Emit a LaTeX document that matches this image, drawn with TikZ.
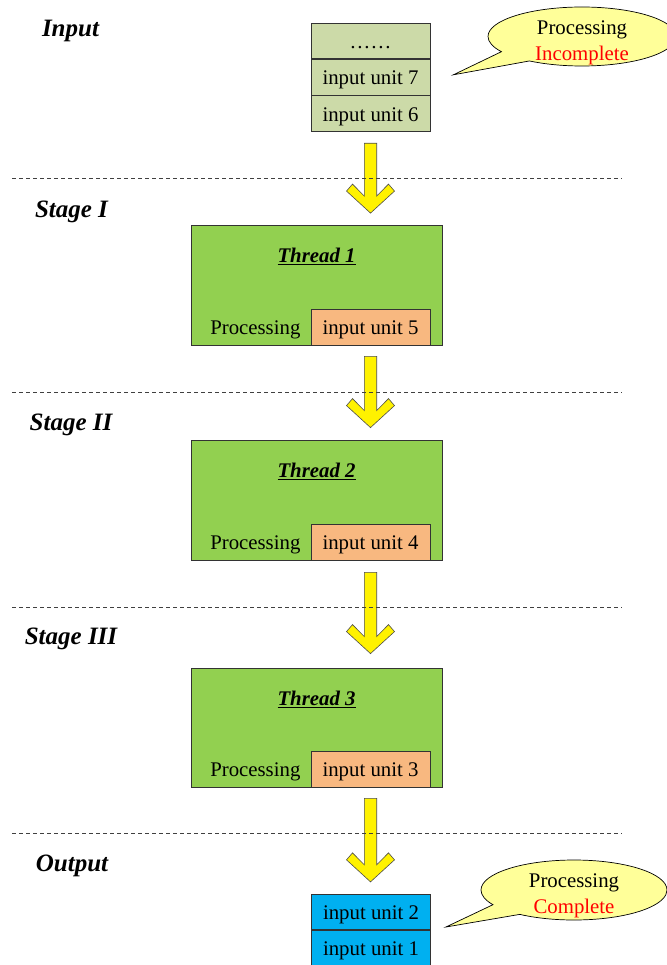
\documentclass[tikz,border=0pt]{standalone}
\usepackage{fontspec}
\setmainfont{Liberation Serif}
\usepackage{tikz}
\usetikzlibrary{positioning,calc,shapes.callouts}

\definecolor{inolive}{RGB}{204,218,168}
\definecolor{thrgreen}{RGB}{146,208,80}
\definecolor{unitorange}{RGB}{248,184,128}
\definecolor{outcyan}{RGB}{0,176,240}
\definecolor{bubble}{RGB}{255,255,153}

\newcommand{\unitfont}{\fontsize{20.8}{26}\selectfont}
\newcommand{\stagefont}{\fontsize{25}{30}\selectfont\bfseries\itshape}

% yellow block arrow from #1 (top of shaft) down to #2 (tip)
\newcommand{\yarrow}[2]{%
  \filldraw[yarrow] ($(#1)+(-6.2,0)$) -- ($(#2)+(-6.2,-17)$) -- ($(#2)+(-18,-29)$)
    -- ($(#2)+(-24,-22)$) -- (#2) -- ($(#2)+(24,-22)$) -- ($(#2)+(18,-29)$)
    -- ($(#2)+(6.2,-17)$) -- ($(#1)+(6.2,0)$) -- cycle;}

\tikzset{
  unit/.style={draw=black!80, line width=0.8pt, minimum width=119pt,
    minimum height=35.5pt, inner sep=0pt, font=\unitfont,
    text height=15pt, text depth=0pt},
  thread/.style={draw=black!80, line width=0.8pt, fill=thrgreen,
    minimum width=251pt, minimum height=120pt, inner sep=0pt},
  proc/.style={font=\unitfont, inner sep=2pt, text height=15pt, text depth=0pt},
  stagelabel/.style={font=\stagefont, inner sep=0pt, text depth=0pt},
  stageline/.style={draw=black!75, line width=0.75pt, dash pattern=on 4pt off 3pt},
  yarrow/.style={fill=yellow, draw=black!70, line width=0.6pt, line join=miter},
  bubblenote/.style={ellipse callout, draw=black, line width=0.7pt, fill=bubble,
    minimum width=188pt, minimum height=59pt, inner sep=0pt,
    callout pointer arc=25},
  bubbletext/.style={font=\unitfont, align=center, inner sep=0pt}
}

\begin{document}
\begin{tikzpicture}[x=1pt,y=-1pt]
\useasboundingbox (0,0) rectangle (666,965);

% input queue
\node[unit, fill=inolive] (indots) at (370.5,41) {……};
\node[unit, fill=inolive, below=0pt of indots] (in7) {input unit 7};
\node[unit, fill=inolive, below=0pt of in7] (in6) {input unit 6};

% threads
\node[thread] (thr1) at (316.5,285) {};
\node[thread] (thr2) at (316.5,500) {};
\node[thread, minimum height=119pt] (thr3) at (316.5,727.5) {};

\node[font=\unitfont\bfseries\itshape] (t1) at ($(thr1.north)+(0,32)$) {\underline{Thread 1}};
\node[font=\unitfont\bfseries\itshape] (t2) at ($(thr2.north)+(0,32)$) {\underline{Thread 2}};
\node[font=\unitfont\bfseries\itshape] (t3) at ($(thr3.north)+(0,32)$) {\underline{Thread 3}};

\node[unit, fill=unitorange, anchor=south east] (u5) at ($(thr1.south east)+(-12,0)$) {input unit 5};
\node[unit, fill=unitorange, anchor=south east] (u4) at ($(thr2.south east)+(-12,0)$) {input unit 4};
\node[unit, fill=unitorange, anchor=south east] (u3) at ($(thr3.south east)+(-12,0)$) {input unit 3};

\node[proc, left=8pt of u5] (p1) {Processing};
\node[proc, left=8pt of u4] (p2) {Processing};
\node[proc, left=8pt of u3] (p3) {Processing};

% output queue
\node[unit, fill=outcyan] (out2) at (371,912) {input unit 2};
\node[unit, fill=outcyan, below=0pt of out2] (out1) {input unit 1};

% arrows
\coordinate (a1s) at ($(in6.south)+(0,11.5)$);
\coordinate (a1e) at ($(thr1.north -| in6.south)+(0,-11.5)$);
\coordinate (a2s) at ($(u5.south)+(0,11)$);
\coordinate (a2e) at ($(thr2.north -| u5.south)+(0,-12)$);
\coordinate (a3s) at ($(u4.south)+(0,12)$);
\coordinate (a3e) at ($(thr3.north -| u4.south)+(0,-14)$);
\coordinate (a4s) at ($(u3.south)+(0,11)$);
\coordinate (a4e) at ($(out2.north -| u3.south)+(0,-12)$);
\yarrow{a1s}{a1e}
\yarrow{a2s}{a2e}
\yarrow{a3s}{a3e}
\yarrow{a4s}{a4e}

% stage separators
\draw[stageline] (12,178) -- (622,178);
\draw[stageline] (12,392) -- (622,392);
\draw[stageline] (12,607) -- (622,607);
\draw[stageline] (12,833) -- (622,833);

\node[stagelabel] (lin) at (70.5,28) {Input};
\node[stagelabel] (ls1) at (71.5,209) {Stage I};
\node[stagelabel] (ls2) at (71,422) {Stage II};
\node[stagelabel] (ls3) at (71,636) {Stage III};
\node[stagelabel] (lout) at (72,863) {Output};

% callouts
\coordinate (tip1) at ($(in7.east)+(23,-2.5)$);
\coordinate (tip2) at ($(out2.east)+(15,15)$);
\node[bubblenote, callout absolute pointer=(tip1)] (note1) at (582,36.5) {};
\node[bubbletext] (note1t) at ($(note1.center)+(0,6)$)
  {Processing\\\textcolor{red}{Incomplete}};
\node[bubblenote, callout absolute pointer=(tip2), minimum width=186pt, minimum height=60pt] (note2) at (574,890) {};
\node[bubbletext] (note2t) at ($(note2.center)+(0,6)$)
  {Processing\\\textcolor{red}{Complete}};
\end{tikzpicture}
\end{document}
